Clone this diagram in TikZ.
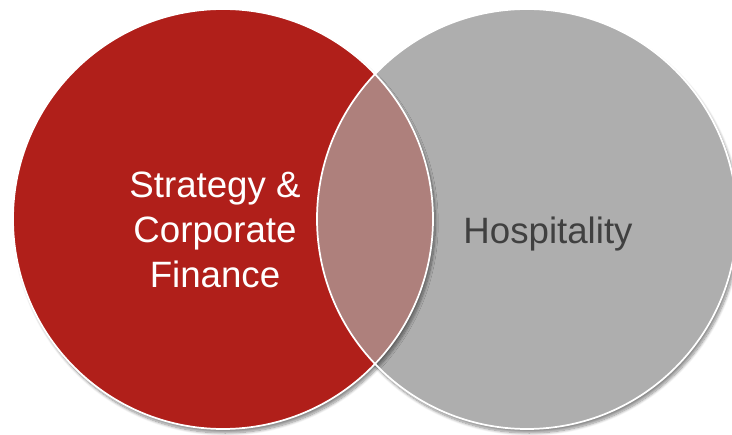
\documentclass[tikz,border=0pt]{standalone}
\usepackage{fontspec}
\setmainfont{Liberation Sans}
\usetikzlibrary{shadows,shadows.blur}
\definecolor{vennred}{HTML}{B01F1A}
\definecolor{venngrey}{HTML}{AEAEAE}
\definecolor{vennmix}{HTML}{AE807C}
\definecolor{venntext}{HTML}{404040}

\begin{document}
\begin{tikzpicture}[x=0.75pt,y=-0.75pt,
  venn/.style={circle,inner sep=0pt,minimum size=315pt,
    blur shadow={shadow blur steps=10,shadow xshift=1.8pt,shadow yshift=-3pt,shadow opacity=45}},
  rim/.style={draw=white,line width=1.3pt},
  lbl/.style={align=center,inner sep=0pt,font=\fontsize{27.5}{33.5}\selectfont}]
\useasboundingbox (0,0) rectangle (732,435);
% circles
\node[venn,fill=venngrey] (hosp) at (527,219) {};
\node[venn,fill=vennred] (strat) at (223,219) {};
% overlap
\begin{scope}
\clip (strat.center) circle (157.5pt);
\fill[vennmix] (hosp.center) circle (157.5pt);
\end{scope}
\draw[rim] (hosp.center) circle (157.5pt);
\draw[rim] (strat.center) circle (157.5pt);
% labels
\node[lbl,text=white] (stratlbl) at (215,230) {Strategy \&\\Corporate\\Finance};
\node[lbl,text=venntext] (hosplbl) at (548,234) {Hospitality};
\end{tikzpicture}
\end{document}
